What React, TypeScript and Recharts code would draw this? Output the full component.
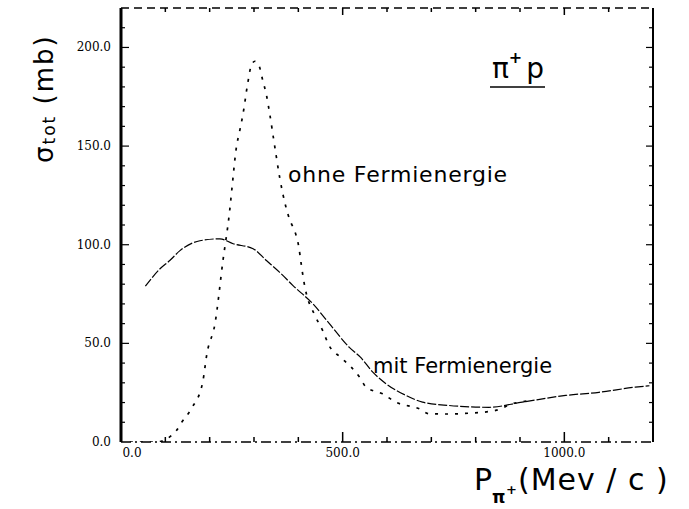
import React from 'react';
import { LineChart, Line, XAxis, YAxis, ReferenceLine } from 'recharts';

// "mit Fermienergie" curve: momentum (MeV/c) and total cross section (mb)
const mitP = [55, 88, 110, 133, 178, 223, 253, 298, 328, 358, 388, 433, 470, 515, 540, 568, 598, 643, 680, 740, 830, 905, 1003, 1078, 1160, 1192];
const mitS = [79, 87.8, 92, 97, 102, 103, 100.5, 98, 92, 86, 79.3, 70, 60, 48, 43, 35.4, 29.5, 23.6, 20.2, 18.5, 17.6, 20.2, 23.6, 25.2, 27.8, 28.5];

// "ohne Fermienergie" curve
const ohneP = [20, 80, 125, 137, 159, 184, 194, 212, 230, 245, 250, 260, 268, 275, 286, 294, 302, 311, 320, 328, 335, 346, 358, 371, 380, 394, 401, 406, 412, 440, 455, 469, 495, 519, 538, 553, 590, 620, 673, 695, 740, 785, 845, 883, 930];
const ohneS = [0, 0, 5.8, 10, 17, 30, 45, 60, 92, 117, 128, 149, 158, 166, 182, 191, 193, 191, 183, 176, 167, 151, 134, 120, 113, 105.5, 99, 91, 82, 63, 56.5, 49, 43, 38, 32.9, 27.8, 24.4, 20.2, 16.8, 14.3, 14.2, 14.6, 16, 19.4, 21];

// axes
const xDomain = [0, 1200];
const yDomain = [0, 220];
const xTicks = [100, 200, 300, 400, 500, 600, 700, 800, 900, 1000, 1100];
const xLabelValues = [0, 500, 1000];
const xLabelTexts = ['0.0', '500.0', '1000.0'];
const yTicks = [10, 20, 30, 40, 50, 60, 70, 80, 90, 100, 110, 120, 130, 140, 150, 160, 170, 180, 190, 200, 210];
const yLabelValues = [0, 50, 100, 150, 200];
const yLabelTexts = ['0.0', '50.0', '100.0', '150.0', '200.0'];

const mitData = mitP.map((p, i) => ({ p, s: mitS[i] }));
const ohneData = ohneP.map((p, i) => ({ p, s: ohneS[i] }));

const tickFont = '"DejaVu Serif", serif';
const sans = '"DejaVu Sans", sans-serif';

// tick length in data units (plot is 532 px wide, 434 px tall)
const xUnitPerPx = (xDomain[1] - xDomain[0]) / 532;
const yUnitPerPx = (yDomain[1] - yDomain[0]) / 434;

const BottomTick = (props: any) => {
  const { x, y, payload } = props;
  const v = payload.value;
  const idx = xLabelValues.indexOf(v);
  if (idx < 0) return <g />;
  return (
    <text x={x + (v === 0 ? 11 : 0)} y={y + 15} textAnchor="middle" fontFamily={tickFont} fontSize={12} fill="#000">
      {xLabelTexts[idx]}
    </text>
  );
};

const LeftTick = (props: any) => {
  const { x, y, payload } = props;
  const v = payload.value;
  const idx = yLabelValues.indexOf(v);
  if (idx < 0) return <g />;
  return (
    <text x={x - 10} y={y + 4} textAnchor="end" fontFamily={tickFont} fontSize={12} fill="#000">
      {yLabelTexts[idx]}
    </text>
  );
};

export default function App() {
  return (
    <div style={{ position: 'absolute', left: 0, top: 0, background: '#fff' }}>
      <LineChart width={689} height={509} margin={{ top: 8, right: 36, bottom: 37, left: 61 }}>
        <XAxis
          dataKey="p"
          type="number"
          domain={xDomain}
          ticks={xLabelValues}
          interval={0}
          height={30}
          tickSize={0}
          tickMargin={0}
          axisLine={{ stroke: '#000', strokeWidth: 1.5, strokeDasharray: '10 4 2 4' }}
          tick={(p: any) => <BottomTick {...p} />}
          allowDataOverflow
        />
        <YAxis
          type="number"
          domain={yDomain}
          ticks={yLabelValues}
          interval={0}
          width={60}
          tickSize={0}
          tickMargin={0}
          axisLine={{ stroke: '#000', strokeWidth: 3 }}
          tick={(p: any) => <LeftTick {...p} />}
          allowDataOverflow
        />
        {/* frame: top and right */}
        <ReferenceLine y={yDomain[1]} stroke="#000" strokeWidth={1.3} strokeDasharray="8 5" ifOverflow="visible" />
        <ReferenceLine x={xDomain[1]} stroke="#000" strokeWidth={2} ifOverflow="visible" />
        {/* inward ticks on bottom and top */}
        {xTicks.map((v) => {
          const len = (v % 500 === 0 ? 10 : 5) * yUnitPerPx;
          return (
            <ReferenceLine
              key={'b' + v}
              segment={[{ x: v, y: yDomain[0] }, { x: v, y: yDomain[0] + len }]}
              stroke="#000"
              strokeWidth={1.5}
              ifOverflow="visible"
            />
          );
        })}
        {xTicks.map((v) => {
          const len = (v % 500 === 0 ? 7 : 4) * yUnitPerPx;
          return (
            <ReferenceLine
              key={'t' + v}
              segment={[{ x: v, y: yDomain[1] }, { x: v, y: yDomain[1] - len }]}
              stroke="#000"
              strokeWidth={1.5}
              ifOverflow="visible"
            />
          );
        })}
        {/* inward ticks on left and right */}
        {yTicks.map((v) => {
          const len = (v % 50 === 0 ? 8 : 4) * xUnitPerPx;
          return (
            <ReferenceLine
              key={'l' + v}
              segment={[{ x: xDomain[0], y: v }, { x: xDomain[0] + len, y: v }]}
              stroke="#000"
              strokeWidth={1.2}
              ifOverflow="visible"
            />
          );
        })}
        {yTicks.map((v) => {
          const len = (v % 50 === 0 ? 7 : 4) * xUnitPerPx;
          return (
            <ReferenceLine
              key={'r' + v}
              segment={[{ x: xDomain[1], y: v }, { x: xDomain[1] - len, y: v }]}
              stroke="#000"
              strokeWidth={1.2}
              ifOverflow="visible"
            />
          );
        })}
        <Line
          data={ohneData}
          dataKey="s"
          type="monotone"
          stroke="#000"
          strokeWidth={1.7}
          strokeDasharray="3 7"
          dot={false}
          activeDot={false}
          isAnimationActive={false}
        />
        <Line
          data={mitData}
          dataKey="s"
          type="monotone"
          stroke="#000"
          strokeWidth={1.2}
          strokeDasharray="9 2"
          dot={false}
          activeDot={false}
          isAnimationActive={false}
        />
        <text x={288} y={182} fontFamily={sans} fontSize={22} letterSpacing={0.8} fill="#000">ohne Fermienergie</text>
        <text x={373} y={373} fontFamily={sans} fontSize={21} fill="#000">mit Fermienergie</text>
        <text x={492} y={78} fontFamily={sans} fontSize={28} fill="#000">
          π<tspan dy={-15} fontSize={16} fontWeight="bold">+</tspan><tspan dy={15} dx={4}>p</tspan>
        </text>
        <line x1={490} x2={545} y1={87} y2={87} stroke="#000" strokeWidth={1.5} />
        <text x={474} y={490} fontFamily={sans} fontSize={30} fill="#000">P</text>
        <text x={492} y={503} fontFamily={sans} fontSize={17} fontWeight="bold" fill="#000">π</text>
        <text x={506} y={494} fontFamily={sans} fontSize={13} fontWeight="bold" fill="#000">+</text>
        <text x={518} y={490} fontFamily={sans} fontSize={30} letterSpacing={1} fill="#000">(Mev / c )</text>
        <text transform="rotate(-90)" x={-163} y={53} fontFamily={sans} fontSize={26} letterSpacing={2} fill="#000">
          σ<tspan fontSize={17} dy={2}>tot</tspan><tspan dy={-2}> (mb)</tspan>
        </text>
      </LineChart>
    </div>
  );
}
